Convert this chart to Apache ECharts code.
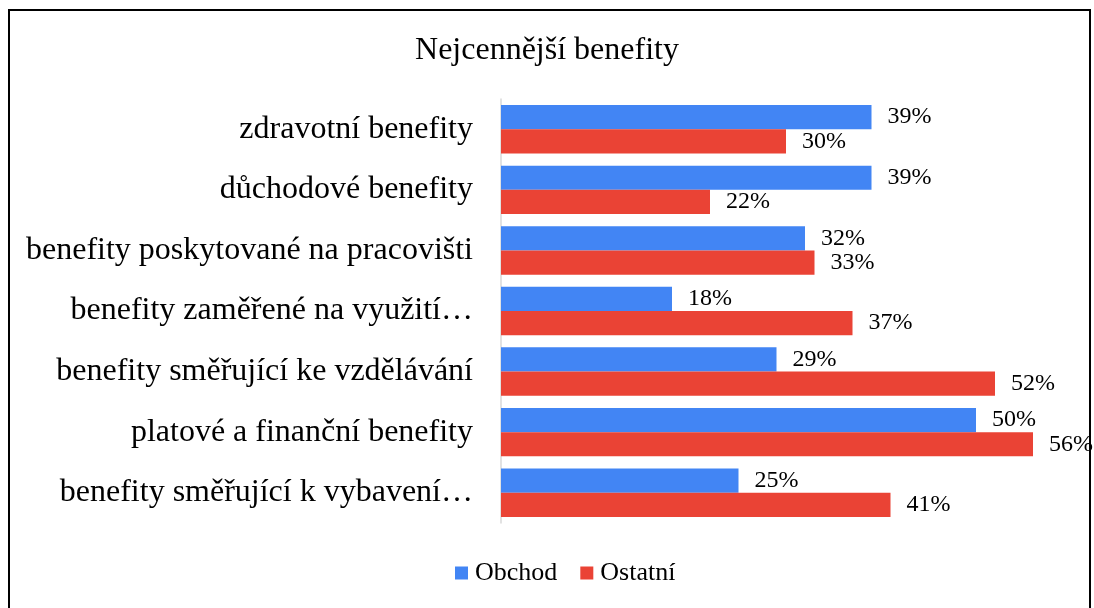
<!DOCTYPE html>
<html>
<head>
<meta charset="utf-8">
<script src="https://cdn.jsdelivr.net/npm/echarts@6/dist/echarts.min.js"></script>
<style>
  body { margin: 0; background: #fff; }
  #frame {
    position: absolute; left: 8px; top: 9px; width: 1083px; height: 610px;
    border: 2.5px solid #000; box-sizing: border-box;
  }
  #main { position: absolute; left: 0; top: 0; width: 1094px; height: 608px; }
</style>
</head>
<body>
<div id="frame"></div>
<div id="main"></div>
<script>
  // data
  var categories = [
    'zdravotní benefity',
    'důchodové benefity',
    'benefity poskytované na pracovišti',
    'benefity zaměřené na využití…',
    'benefity směřující ke vzdělávání',
    'platové a finanční benefity',
    'benefity směřující k vybavení…'
  ];
  var obchod = [39, 39, 32, 18, 29, 50, 25];
  var ostatni = [30, 22, 33, 37, 52, 56, 41];

  var font = '"Liberation Serif", "DejaVu Serif", serif';
  var chart = echarts.init(document.getElementById('main'));

  chart.setOption({
    textStyle: { fontFamily: font },
    title: {
      text: 'Nejcennější benefity',
      left: 'center',
      top: 30,
      textStyle: { fontFamily: font, fontSize: 32, fontWeight: 'normal', color: '#000' }
    },
    legend: {
      bottom: 17,
      left: 450,
      itemWidth: 13,
      itemHeight: 13,
      itemGap: 23,
      icon: 'rect',
      textStyle: { fontFamily: font, fontSize: 26, color: '#000', padding: [0, 0, 0, 2] },
      data: ['Obchod', 'Ostatní']
    },
    grid: { left: 501, right: 23, top: 99, bottom: 85 },
    xAxis: {
      type: 'value',
      min: 0,
      max: 60,
      show: false
    },
    yAxis: {
      type: 'category',
      inverse: true,
      data: categories,
      axisLine: { lineStyle: { color: '#d9d9d9', width: 1.5 } },
      axisTick: { show: false },
      axisLabel: { fontFamily: font, fontSize: 32, color: '#000', margin: 28 }
    },
    series: [
      {
        name: 'Obchod',
        type: 'bar',
        data: obchod,
        barGap: '0%',
        barCategoryGap: '20%',
        itemStyle: { color: '#4285f4' },
        label: {
          show: true, position: 'right', distance: 16,
          formatter: '{c}%', fontFamily: font, fontSize: 24, color: '#000'
        }
      },
      {
        name: 'Ostatní',
        type: 'bar',
        data: ostatni,
        barGap: '0%',
        barCategoryGap: '20%',
        itemStyle: { color: '#ea4335' },
        label: {
          show: true, position: 'right', distance: 16,
          formatter: '{c}%', fontFamily: font, fontSize: 24, color: '#000'
        }
      }
    ]
  });
</script>
</body>
</html>
